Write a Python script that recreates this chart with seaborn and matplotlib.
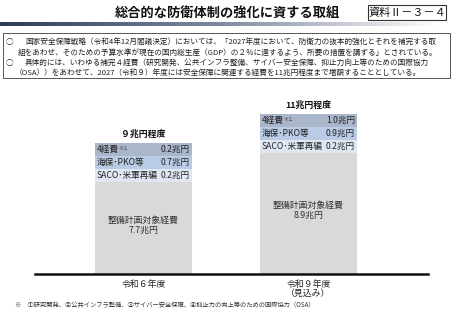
import matplotlib
matplotlib.use("Agg")
import matplotlib.pyplot as plt
import numpy as np
import pandas as pd
import seaborn as sns
from matplotlib.patches import Rectangle

# data
years = ["令和６年度", "令和９年度\n（見込み）"]
totals = [9, 11]
total_labels = ["９兆円程度", "11兆円程度"]
main_values = ["7.7", "8.9"]
item_names = ["4経費", "海保･PKO等", "SACO･米軍再編"]
item_values = {
    "4経費": ["0.2", "1.0"],
    "海保･PKO等": ["0.7", "0.9"],
    "SACO･米軍再編": ["0.2", "0.2"],
}
item_colors = ["#aab6c9", "#b9cbe5", "#dfe7f3"]
main_color = "#d9d9d9"
band = 0.9  # fixed height of each breakdown row (label band, not to scale)

sns.set_theme(style="white")
plt.rcParams["font.family"] = ["Noto Sans CJK JP", "DejaVu Sans"]

fig = plt.figure(figsize=(4.53, 3.2), dpi=100)
W, H = 453, 320

# header
fig.text(227 / W, 1 - 13 / H, "総合的な防衛体制の強化に資する取組", ha="center", va="center",
         fontsize=9.5, fontweight="bold", color="#111111")
fig.patches.append(Rectangle((368 / W, 1 - 20 / H), 78 / W, 15 / H, transform=fig.transFigure,
                             facecolor="white", edgecolor="#333333", linewidth=0.8))
fig.text(407 / W, 1 - 12.5 / H, "資料Ⅱ－３－４", ha="center", va="center", fontsize=8, color="#111111")

grad = np.linspace(0, 1, 256).reshape(1, -1)
gax = fig.add_axes([0, 1 - 26 / H, 440 / W, 4 / H])
cmap = matplotlib.colors.LinearSegmentedColormap.from_list("hdr", ["#2c3b5a", "#7f8aa0", "#ffffff"])
gax.imshow(grad, aspect="auto", cmap=cmap)
gax.set_axis_off()

# intro box
fig.patches.append(Rectangle((3 / W, 1 - 78 / H), 447 / W, 45 / H, transform=fig.transFigure,
                             facecolor="white", edgecolor="#555555", linewidth=0.7))
lines = [
    (6, 42, "○"),
    (25, 42, "国家安全保障戦略（令和4年12月閣議決定）においては、「2027年度において、防衛力の抜本的強化とそれを補完する取"),
    (18, 53, "組をあわせ、そのための予算水準が現在の国内総生産（GDP）の２％に達するよう、所要の措置を講ずる」とされている。"),
    (6, 63, "○"),
    (25, 63, "具体的には、いわゆる補完４経費（研究開発、公共インフラ整備、サイバー安全保障、抑止力向上等のための国際協力"),
    (15, 73, "（OSA））をあわせて、2027（令和９）年度には安全保障に関連する経費を11兆円程度まで増額することとしている。"),
]
for x, y, s in lines:
    fig.text(x / W, 1 - y / H, s, ha="left", va="center", fontsize=5.5, color="#222222")

# chart
ax = fig.add_axes([35 / W, 46 / H, 393 / W, 175 / H])
df = pd.DataFrame({"year": years, "total": totals})

# stacked look: each layer drawn from the totals minus fixed label bands
layers = [(0, item_colors[0]), (1, item_colors[1]), (2, item_colors[2]), (3, main_color)]
for k, col in layers:
    d = df.assign(h=df["total"] - k * band)
    sns.barplot(data=d, x="year", y="h", color=col, width=0.588, saturation=1,
                edgecolor="none", ax=ax)

ax.set_xlim(-0.658, 1.724)
ax.set_ylim(0, 12)
fs = 6.2
for i, (tot, tl, mv) in enumerate(zip(totals, total_labels, main_values)):
    x0, x1 = i - 0.294, i + 0.294
    ax.text(i, tot + 0.6, tl, ha="center", va="center", fontsize=6.4, fontweight="bold", color="#111111")
    for j, name in enumerate(item_names):
        yc = tot - (j + 0.5) * band
        t = ax.text(x0 + 0.01, yc, name, ha="left", va="center", fontsize=fs, color="#222222")
        if name == "4経費":
            ax.annotate("※１", xy=(1, 0.85), xycoords=t, ha="left", va="top",
                        fontsize=3.6, color="#444444")
        ax.text(x1 - 0.012, yc, item_values[name][i] + "兆円", ha="right", va="center",
                fontsize=fs, color="#222222")
    gtop = tot - 3 * band
    ax.text(i, gtop / 2 + 0.2, "整備計画対象経費\n" + mv + "兆円", ha="center", va="center",
            fontsize=6.4, color="#333333", linespacing=1.15)

for s in ["top", "right", "left"]:
    ax.spines[s].set_visible(False)
ax.spines["bottom"].set_linewidth(1.8)
ax.spines["bottom"].set_color("#111111")
ax.set_yticks([])
ax.set_xlabel("")
ax.set_ylabel("")
ax.tick_params(axis="x", length=0, pad=4, labelsize=6.4, labelcolor="#222222")
for t in ax.get_xticklabels():
    t.set_linespacing(1.1)

fig.text(15 / W, 1 - 305 / H, "※　①研究開発、②公共インフラ整備、③サイバー安全保障、④抑止力の向上等のための国際協力（OSA）",
         ha="left", va="center", fontsize=4.5, color="#333333")

fig.savefig("out.png", dpi=100)
